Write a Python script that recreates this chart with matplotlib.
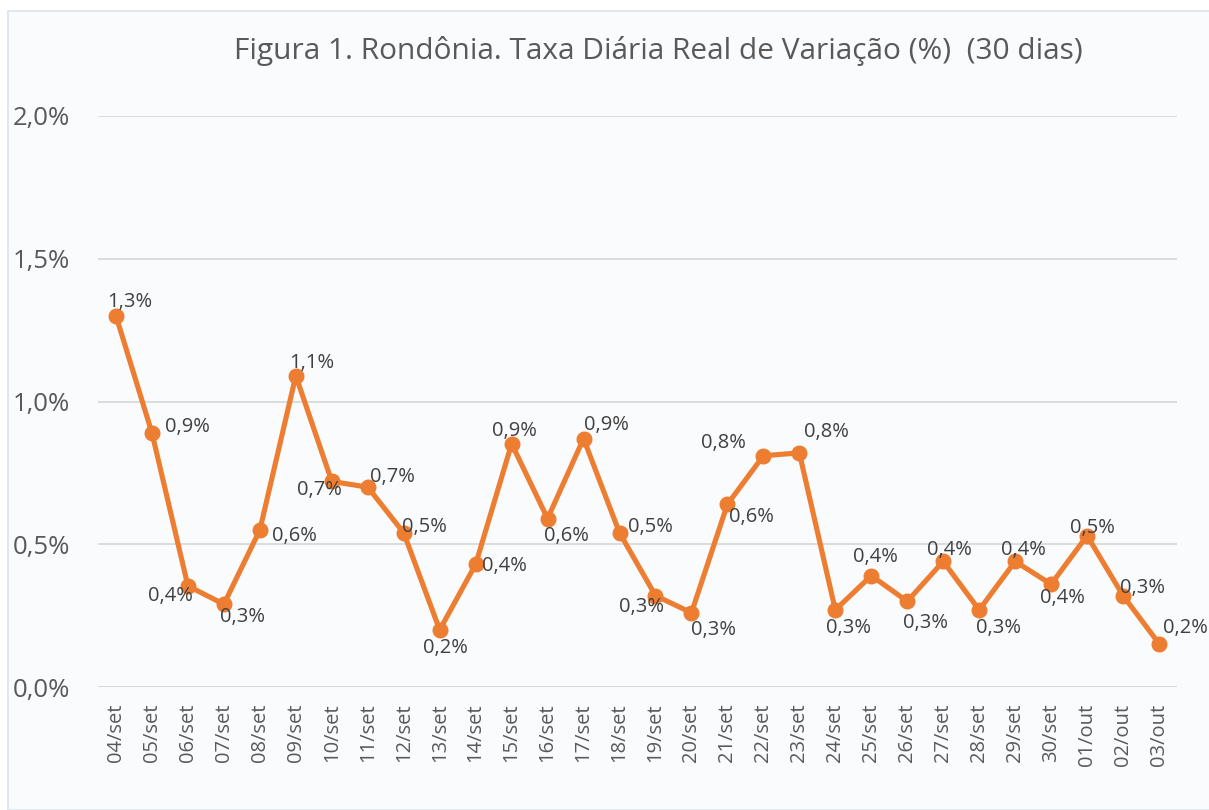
import matplotlib
matplotlib.use("Agg")
import matplotlib.pyplot as plt
from matplotlib.patches import Rectangle
from matplotlib.ticker import FuncFormatter

dates = ["04/set", "05/set", "06/set", "07/set", "08/set", "09/set", "10/set",
         "11/set", "12/set", "13/set", "14/set", "15/set", "16/set", "17/set",
         "18/set", "19/set", "20/set", "21/set", "22/set", "23/set", "24/set",
         "25/set", "26/set", "27/set", "28/set", "29/set", "30/set", "01/out",
         "02/out", "03/out"]
taxa = [1.30, 0.89, 0.354, 0.29, 0.55, 1.09, 0.72, 0.70, 0.54, 0.20,
        0.43, 0.852, 0.59, 0.87, 0.54, 0.32, 0.26, 0.64, 0.81, 0.82,
        0.27, 0.39, 0.30, 0.44, 0.27, 0.44, 0.36, 0.53, 0.32, 0.152]
yticks = [0.0, 0.5, 1.0, 1.5, 2.0]

# label offsets in pixels (dx, dy with y downward) -- style only
label_offsets = [(14, -14), (35, -6), (-17, 10), (19, 13), (35, 6), (16, -13),
                 (-12, 9), (25, -10), (21, -6), (6, 18), (29, 2), (3, -13),
                 (19, 17), (23, -14), (31, -6), (-14, 11), (22, 17), (24, 13),
                 (-40, -13), (27, -21), (13, 18), (4, -19), (18, 22), (6, -11),
                 (19, 18), (8, -11), (11, 14), (5, -8), (19, -8), (26, -16)]

W, H = 1209, 810
fig = plt.figure(figsize=(W / 100, H / 100), dpi=100)
fig.patch.set_facecolor("white")
bg = Rectangle((8 / W, 0), 1 - 8 / W + 0.01, 1 - 11 / H,
               transform=fig.transFigure, facecolor="#FAFBFD",
               edgecolor="#DCE4EE", linewidth=1.2, zorder=-10)
fig.add_artist(bg)

font = "Open Sans"
ax = fig.add_axes([98 / W, 1 - 687 / H, (1177 - 98) / W, (687 - 116) / H])
ax.set_zorder(1)
ax.set_facecolor("none")
x = list(range(len(dates)))
color = "#ED7D31"
ax.plot(x, taxa, color=color, lw=3.7, marker="o", ms=10.5, solid_joinstyle="round",
        zorder=3)

for i, v in enumerate(taxa):
    dx, dy = label_offsets[i]
    ax.annotate(f"{v:.1f}".replace(".", ",") + "%", (i, v), xytext=(dx * 0.72, -dy * 0.72),
                textcoords="offset points", ha="center", va="center",
                fontsize=14.5, color="#404040", family=font, zorder=4)

ax.set_xlim(-0.5, len(dates) - 0.5)
ax.set_ylim(0, 2.0)
ax.set_yticks(yticks)
ax.yaxis.set_major_formatter(FuncFormatter(lambda v, p: f"{v:.1f}".replace(".", ",") + "%"))
ax.set_xticks(x)
ax.set_xticklabels(dates, rotation=90, family=font, fontsize=14.5, color="#595959")
for lab in ax.get_yticklabels():
    lab.set_family(font)
    lab.set_fontsize(18.5)
    lab.set_color("#595959")
ax.tick_params(axis="both", length=0)
ax.tick_params(axis="y", pad=20)
ax.tick_params(axis="x", pad=12)
ax.grid(axis="y", color="#D9D9D9", lw=1.3)
ax.set_axisbelow(True)
for s in ax.spines.values():
    s.set_visible(False)
ax.axhline(0, color="#D9D9D9", lw=1.3, zorder=1)

fig.text(658 / W, 1 - 51 / H, "Figura 1. Rondônia. Taxa Diária Real de Variação (%)  (30 dias)",
         ha="center", va="center", family=font, fontsize=21.5, color="#595959")

fig.savefig("out.png", dpi=100)
